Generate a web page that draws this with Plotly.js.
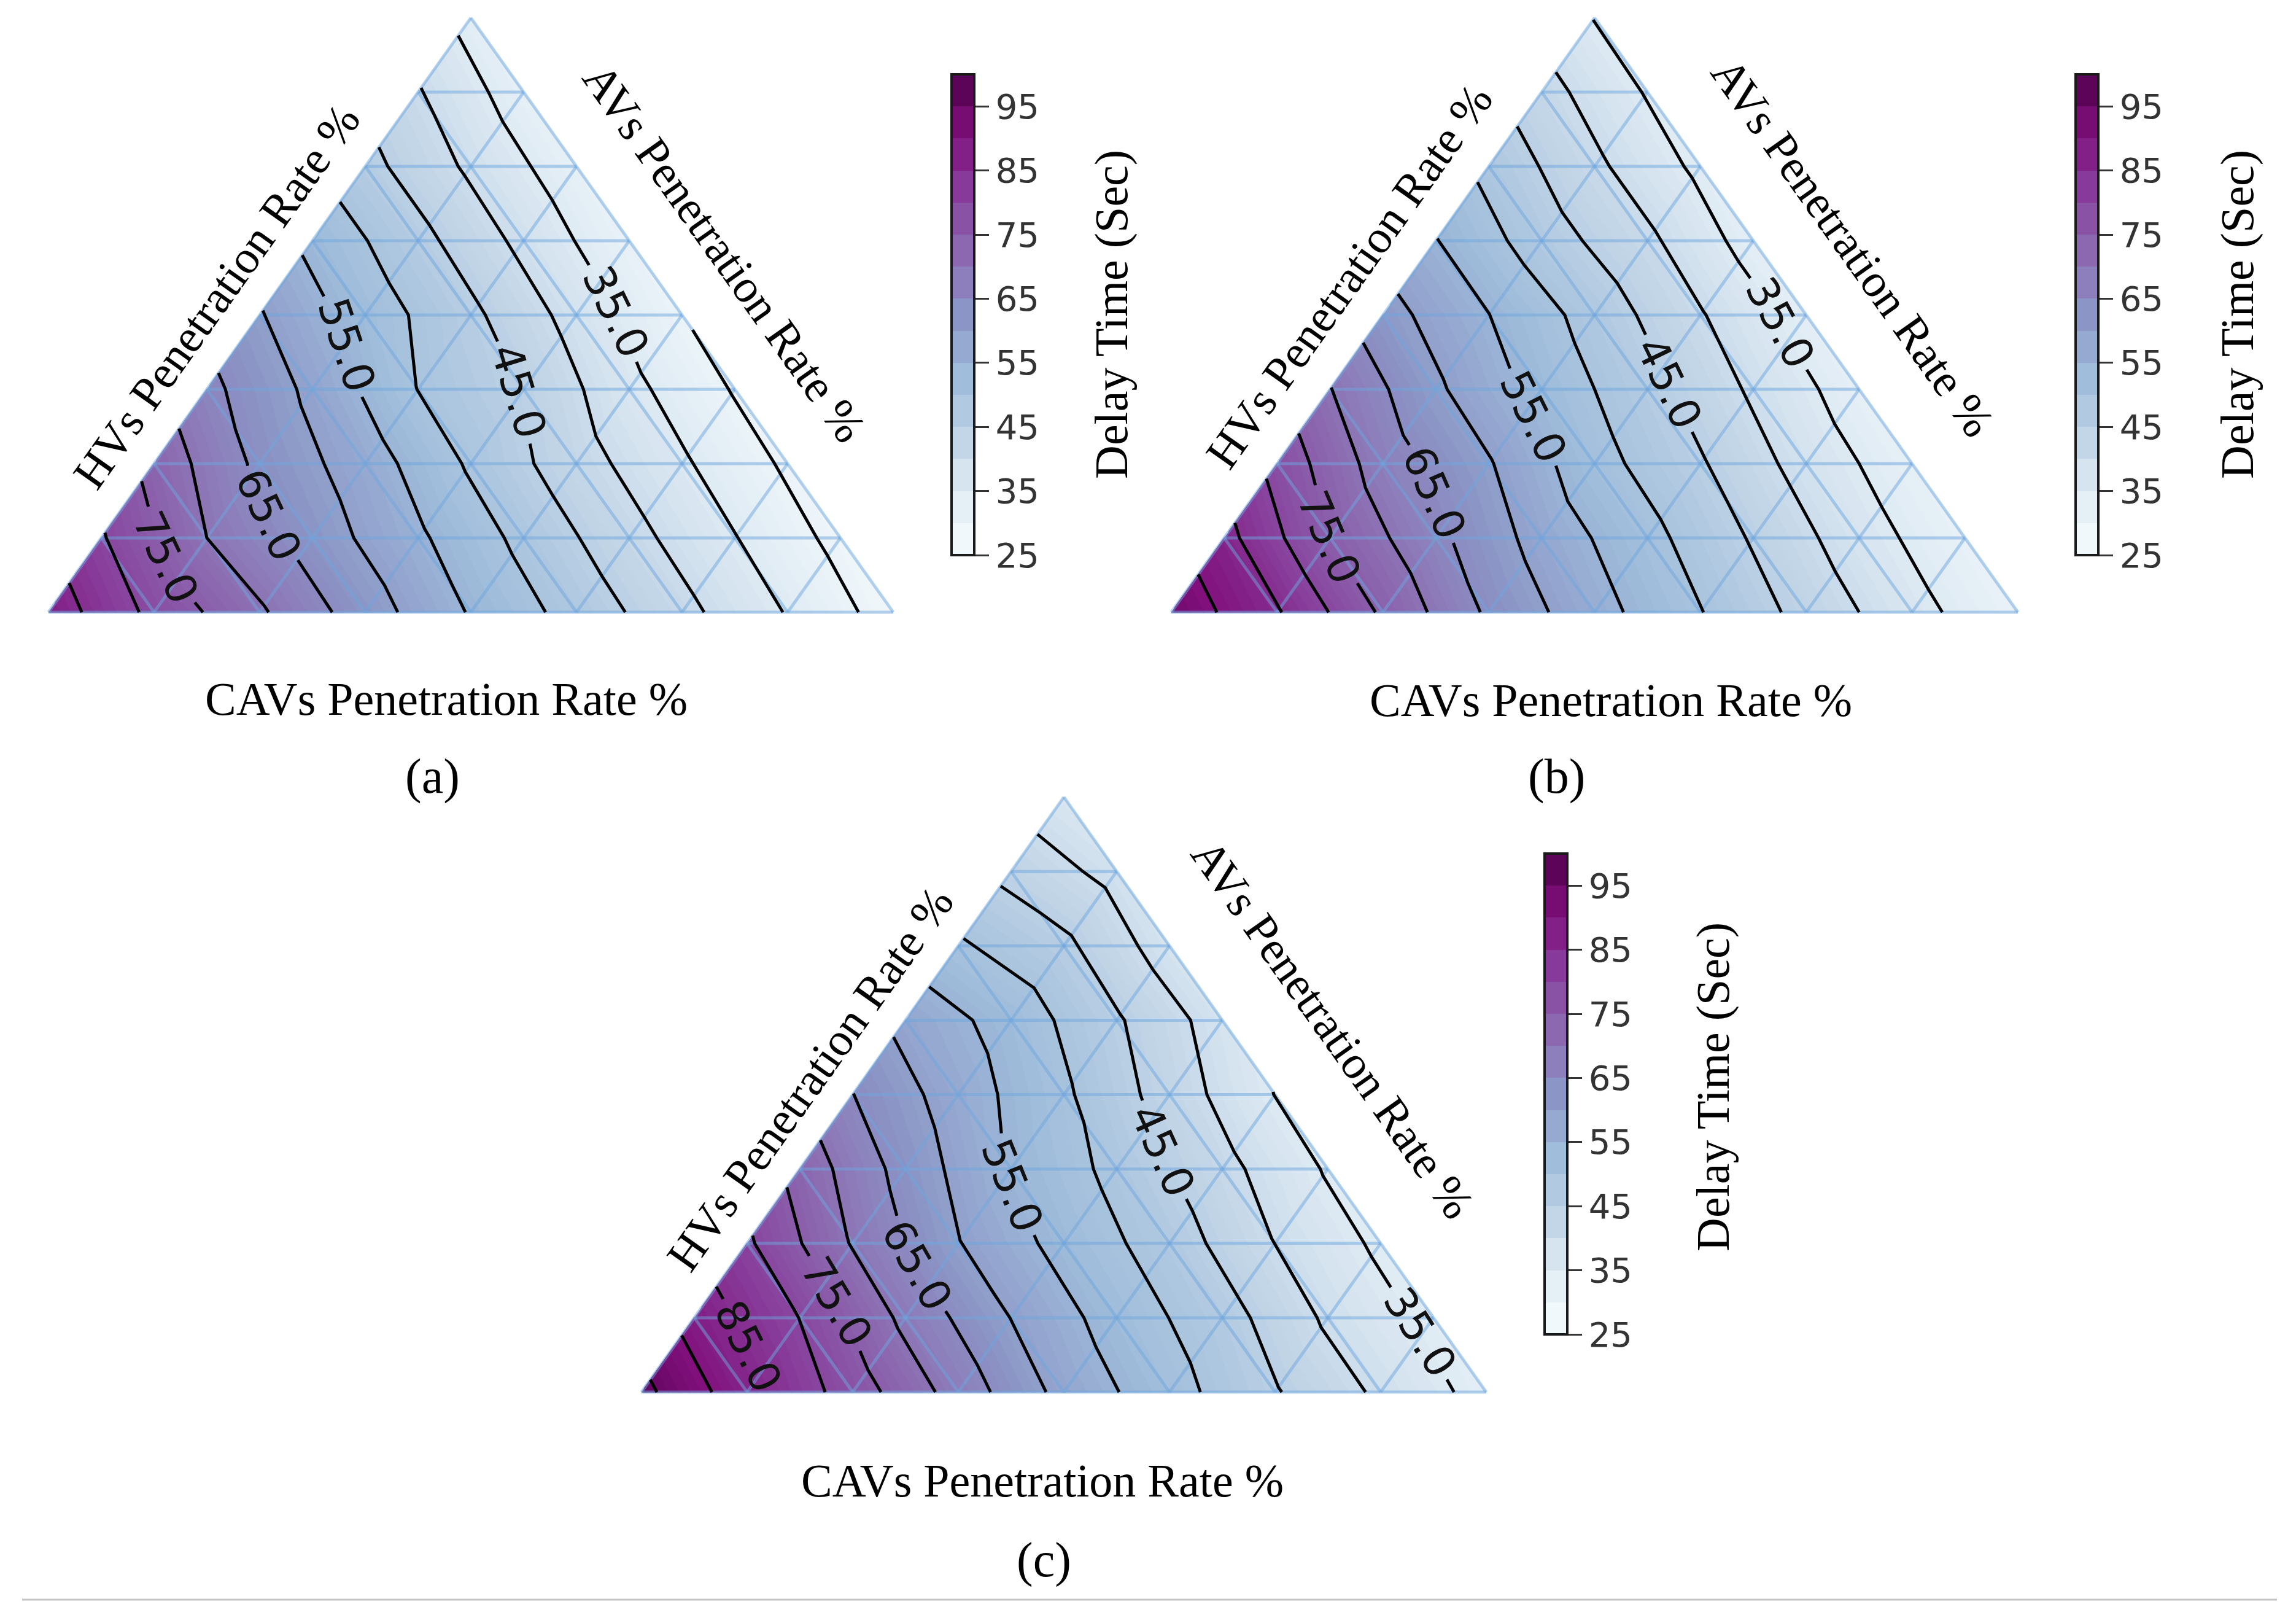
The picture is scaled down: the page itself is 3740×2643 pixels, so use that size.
<!DOCTYPE html>
<html><head><meta charset="utf-8">
<script src="https://cdn.plot.ly/plotly-3.0.1.min.js"></script>
<style>html,body{margin:0;padding:0;background:#fff}#chart{width:3740px;height:2643px}</style>
</head><body><div id="chart"></div>
<script>
// ---------------- DATA ----------------
// Delay time (s) at each node of an 8-division ternary mesh.
// Row 0 = bottom edge (left -> right), last row = apex.
const delayA = [
  [87.9, 78.7, 70.7, 62.4, 54.6, 48.1, 41.4, 34.7, 27.7],
  [80.5, 70.0, 62.7, 55.8, 48.7, 41.7, 35.2, 28.5],
  [73.3, 63.9, 57.5, 49.3, 42.1, 35.7, 29.2],
  [66.3, 58.9, 49.9, 44.7, 36.4, 29.6],
  [60.4, 52.7, 46.1, 38.1, 30.1],
  [53.7, 46.6, 38.7, 31.0],
  [46.6, 39.1, 31.9],
  [40.4, 32.3],
  [33.3]
];
const delayB = [
  [93.4, 85.5, 74.2, 64.2, 56.8, 50.2, 43.4, 36.6, 31.0],
  [86.7, 74.9, 66.2, 58.1, 51.5, 44.5, 37.2, 31.4],
  [78.3, 67.6, 60.4, 51.8, 45.5, 38.0, 32.0],
  [70.2, 60.8, 53.3, 46.7, 39.2, 32.4],
  [61.9, 55.1, 48.0, 40.4, 32.9],
  [55.2, 47.5, 41.0, 32.9],
  [48.6, 41.0, 33.9],
  [41.9, 34.6],
  [34.8]
];
const delayC = [
  [96.4, 86.8, 77.6, 67.9, 58.4, 51.9, 45.4, 39.1, 33.2],
  [88.0, 79.9, 68.7, 59.9, 52.8, 47.1, 39.2, 33.8],
  [80.8, 69.6, 60.2, 53.3, 47.7, 39.9, 34.1],
  [73.1, 63.1, 54.6, 48.7, 41.5, 34.5],
  [65.1, 57.5, 50.8, 42.8, 34.9],
  [58.5, 53.0, 45.6, 37.6],
  [50.7, 46.1, 37.4],
  [43.6, 38.3],
  [36.4]
];
const contourLevels = [30, 35, 40, 45, 50, 55, 60, 65, 70, 75, 80, 85, 90, 95];
const colorbarTicks = [25, 35, 45, 55, 65, 75, 85, 95];
const valueMin = 25, valueMax = 100;
const panelLetters = ['(a)', '(b)', '(c)'];
const leftTitle = 'HVs Penetration Rate %';
const rightTitle = 'AVs Penetration Rate %';
const bottomTitle = 'CAVs Penetration Rate %';
const colorbarTitle = 'Delay Time (Sec)';

// ---------------- PLACEMENT / STYLE ----------------
const W = 3740, H = 2643;
const panels = [
  {data: delayA, box: {L: 79, R: 1455, B: 997, T: 29},
   cb: {x0: 1550, x1: 1587, y0: 121, y1: 904}, cbTitle: [1810, 512],
   titles: {left: [352, 483], right: [1180, 411], bottom: [727, 1138], letter: [704, 1264]},
   labelHeights: {35: 0.505, 45: 0.372, 55: 0.449, 65: 0.163, 75: 0.092}},
  {data: delayB, box: {L: 1908, R: 3287, B: 997, T: 27},
   cb: {x0: 3381, x1: 3418, y0: 121, y1: 904}, cbTitle: [3644, 512],
   titles: {left: [2197, 450], right: [3018, 402], bottom: [2624, 1140], letter: [2535, 1264]},
   labelHeights: {35: 0.487, 45: 0.385, 55: 0.329, 65: 0.201, 75: 0.126}},
  {data: delayC, box: {L: 1045, R: 2421, B: 2267, T: 1298},
   cb: {x0: 2516, x1: 2553, y0: 1390, y1: 2173}, cbTitle: [2790, 1770],
   titles: {left: [1319, 1757], right: [2171, 1675], bottom: [1698, 2411], letter: [1700, 2540]},
   labelHeights: {35: 0.10, 45: 0.406, 55: 0.347, 65: 0.213, 75: 0.151, 85: 0.076}}
];
const serif = 'Liberation Serif, Times New Roman, serif';
const sans = 'DejaVu Sans, sans-serif';
const titleSize = 76, labelSize = 70, tickSize = 56;
const gridColor = 'rgba(110,165,222,0.5)';

// ---------------- HELPERS ----------------
const BUPU = ['#f7fcfd','#e0ecf4','#bfd3e6','#9ebcda','#8c96c6','#8c6bb1','#88419d','#810f7c','#4d004b']
  .map(h => [parseInt(h.slice(1,3),16), parseInt(h.slice(3,5),16), parseInt(h.slice(5,7),16)]);
function bupu(t) {
  t = Math.max(0, Math.min(1, t));
  const p = t * (BUPU.length - 1);
  const i = Math.min(BUPU.length - 2, Math.floor(p));
  const f = p - i;
  const c = BUPU[i].map((a, j) => Math.round(a + (BUPU[i + 1][j] - a) * f));
  return `rgb(${c[0]},${c[1]},${c[2]})`;
}
function buildMesh(rows) {
  const n = rows.length - 1, idx = [], verts = [], tris = [];
  for (let r = 0; r <= n; r++) {
    idx[r] = [];
    for (let k = 0; k <= n - r; k++) {
      idx[r][k] = verts.length;
      verts.push({x: (k + r / 2) / n, y: r / n, v: rows[r][k]});
    }
  }
  for (let r = 0; r < n; r++) for (let k = 0; k < n - r; k++) {
    tris.push([idx[r][k], idx[r][k + 1], idx[r + 1][k]]);
    if (k < n - r - 1) tris.push([idx[r][k + 1], idx[r + 1][k + 1], idx[r + 1][k]]);
  }
  return {n, idx, verts, tris};
}
function clip(poly, L, above) {
  const out = [];
  const inside = p => above ? p.v >= L : p.v <= L;
  for (let i = 0; i < poly.length; i++) {
    const a = poly[i], b = poly[(i + 1) % poly.length];
    const ia = inside(a), ib = inside(b);
    if (ia) out.push(a);
    if (ia !== ib) {
      const t = (L - a.v) / (b.v - a.v);
      out.push({x: a.x + t * (b.x - a.x), y: a.y + t * (b.y - a.y), v: L});
    }
  }
  return out;
}
function contourLines(mesh, L) {
  const pts = {}, segs = [];
  const key = (i, j) => i < j ? i + '_' + j : j + '_' + i;
  for (const t of mesh.tris) {
    const cross = [];
    for (let e = 0; e < 3; e++) {
      const i = t[e], j = t[(e + 1) % 3];
      const a = mesh.verts[i], b = mesh.verts[j];
      if ((a.v < L) !== (b.v < L)) {
        const k = key(i, j);
        if (!pts[k]) {
          const f = (L - a.v) / (b.v - a.v);
          pts[k] = {x: a.x + f * (b.x - a.x), y: a.y + f * (b.y - a.y)};
        }
        cross.push(k);
      }
    }
    if (cross.length === 2) segs.push(cross);
  }
  const adj = {};
  segs.forEach(([a, b], i) => { (adj[a] = adj[a] || []).push(i); (adj[b] = adj[b] || []).push(i); });
  const used = segs.map(() => false);
  const keys = Object.keys(adj);
  const starts = keys.filter(k => adj[k].length === 1).concat(keys);
  const lines = [];
  for (const s of starts) {
    if (adj[s].every(i => used[i])) continue;
    let cur = s; const chain = [cur];
    while (true) {
      const nx = adj[cur].find(i => !used[i]);
      if (nx === undefined) break;
      used[nx] = true;
      const [a, b] = segs[nx];
      cur = a === cur ? b : a;
      chain.push(cur);
    }
    lines.push(chain.map(k => pts[k]));
  }
  return lines;
}
function arc(P) {
  const cum = [0];
  for (let i = 1; i < P.length; i++) cum.push(cum[i - 1] + Math.hypot(P[i][0] - P[i - 1][0], P[i][1] - P[i - 1][1]));
  return cum;
}
function pointAt(P, cum, s) {
  const tot = cum[cum.length - 1];
  s = Math.max(0, Math.min(tot, s));
  for (let i = 0; i < P.length - 1; i++) {
    if (s <= cum[i + 1] || i === P.length - 2) {
      const d = cum[i + 1] - cum[i];
      const f = d > 0 ? (s - cum[i]) / d : 0;
      return [P[i][0] + f * (P[i + 1][0] - P[i][0]), P[i][1] + f * (P[i + 1][1] - P[i][1])];
    }
  }
  return P[P.length - 1];
}

// ---------------- BUILD ----------------
const traces = [], annotations = [];
const layout = {
  width: W, height: H, margin: {l: 0, r: 0, t: 0, b: 0},
  paper_bgcolor: '#fff', plot_bgcolor: 'rgba(0,0,0,0)', showlegend: false, hovermode: false,
  annotations, shapes: [{type: 'line', xref: 'paper', yref: 'paper', x0: 36 / W, x1: 3709 / W,
    y0: 1 - 2605 / H, y1: 1 - 2605 / H, line: {color: '#c4c4c4', width: 3}}]
};
const stepped = [];
const nb = (valueMax - valueMin) / 5;
for (let b = 0; b < nb; b++) {
  const c = bupu((b + 0.5) / nb);
  stepped.push([b / nb, c], [(b + 1) / nb, c]);
}

panels.forEach((pan, pi) => {
  const sfx = pi === 0 ? '' : String(pi + 1);
  const xa = 'x' + sfx, ya = 'y' + sfx;
  const {L, R, B, T} = pan.box;
  const sx = R - L, sy = B - T, pad = 0.03;
  layout['xaxis' + sfx] = {domain: [(L - pad * sx) / W, (R + pad * sx) / W], range: [-pad, 1 + pad],
    visible: false, fixedrange: true, anchor: ya};
  layout['yaxis' + sfx] = {domain: [1 - (B + pad * sy) / H, 1 - (T - pad * sy) / H], range: [-pad, 1 + pad],
    visible: false, fixedrange: true, anchor: xa};
  const mesh = buildMesh(pan.data);

  // filled colour bands (fine steps -> smooth shading)
  for (let lo = valueMin; lo < valueMax; lo += 1) {
    const hi = lo + 1, xs = [], ys = [];
    for (const t of mesh.tris) {
      let poly = t.map(i => mesh.verts[i]);
      poly = clip(clip(poly, lo, true), hi, false);
      if (poly.length >= 3) { poly.forEach(p => { xs.push(p.x); ys.push(p.y); }); xs.push(null); ys.push(null); }
    }
    if (!xs.length) continue;
    const col = bupu((lo + 0.5 - valueMin) / (valueMax - valueMin));
    traces.push({type: 'scatter', mode: 'lines', x: xs, y: ys, xaxis: xa, yaxis: ya, fill: 'toself',
      fillcolor: col, line: {color: col, width: 1.5}, hoverinfo: 'skip'});
  }

  // triangular grid
  const gx = [], gy = [];
  const n = mesh.n, V = (r, k) => mesh.verts[mesh.idx[r][k]];
  for (let i = 0; i < n; i++) {
    [[V(i, 0), V(i, n - i)], [V(0, i), V(n - i, i)], [V(0, n - i), V(n - i, 0)]].forEach(([a, b]) => {
      gx.push(a.x, b.x, null); gy.push(a.y, b.y, null);
    });
  }
  traces.push({type: 'scatter', mode: 'lines', x: gx, y: gy, xaxis: xa, yaxis: ya,
    line: {color: gridColor, width: 5}, hoverinfo: 'skip'});

  // contour lines with inline labels
  contourLevels.forEach(lv => {
    const lines = contourLines(mesh, lv);
    if (!lines.length) return;
    const xs = [], ys = [];
    const yT = pan.labelHeights[lv];
    let labelled = yT === undefined;
    lines.forEach(line => {
      let out = [line];
      if (!labelled && line.length > 1) {
        const P = line.map(p => [p.x * sx, -p.y * sy]);
        const cum = arc(P);
        let s0 = null;
        for (let i = 0; i < line.length - 1; i++) {
          const a = line[i], b = line[i + 1];
          if ((a.y - yT) * (b.y - yT) <= 0 && a.y !== b.y) {
            const f = (yT - a.y) / (b.y - a.y);
            s0 = cum[i] + f * (cum[i + 1] - cum[i]);
            break;
          }
        }
        if (s0 !== null) {
          labelled = true;
          const txt = lv.toFixed(1);
          const g = (3 * 0.636 + 0.318) * labelSize / 2 + 10;
          const c = pointAt(P, cum, s0), a = pointAt(P, cum, s0 - 30), b = pointAt(P, cum, s0 + 30);
          let ang = Math.atan2(b[1] - a[1], b[0] - a[0]) * 180 / Math.PI;
          if (ang > 90) ang -= 180; if (ang <= -90) ang += 180;
          annotations.push({xref: xa, yref: ya, x: c[0] / sx, y: -c[1] / sy, text: txt, showarrow: false,
            textangle: ang, xanchor: 'center', yanchor: 'middle',
            font: {family: sans, size: labelSize, color: '#111'}});
          const toData = q => ({x: q[0] / sx, y: -q[1] / sy});
          const part1 = [], part2 = [];
          for (let i = 0; i < P.length; i++) { if (cum[i] < s0 - g) part1.push(line[i]); }
          if (s0 - g > 0) part1.push(toData(pointAt(P, cum, s0 - g)));
          if (s0 + g < cum[cum.length - 1]) part2.push(toData(pointAt(P, cum, s0 + g)));
          for (let i = 0; i < P.length; i++) { if (cum[i] > s0 + g) part2.push(line[i]); }
          out = [part1, part2];
        }
      }
      out.forEach(seg => {
        if (seg.length < 2) return;
        seg.forEach(p => { xs.push(p.x); ys.push(p.y); }); xs.push(null); ys.push(null);
      });
    });
    traces.push({type: 'scatter', mode: 'lines', x: xs, y: ys, xaxis: xa, yaxis: ya,
      line: {color: '#000', width: 5}, hoverinfo: 'skip'});
  });

  // invisible nodes carrying the colour bar
  const cb = pan.cb;
  traces.push({type: 'scatter', mode: 'markers', x: mesh.verts.map(p => p.x), y: mesh.verts.map(p => p.y),
    xaxis: xa, yaxis: ya, hoverinfo: 'skip',
    marker: {size: 1, opacity: 0, color: mesh.verts.map(p => p.v), cmin: valueMin, cmax: valueMax,
      colorscale: stepped, showscale: true,
      colorbar: {x: cb.x0 / W, xanchor: 'left', xpad: 0, y: 1 - (cb.y0 + cb.y1) / 2 / H, yanchor: 'middle', ypad: 0,
        len: cb.y1 - cb.y0, lenmode: 'pixels', thickness: cb.x1 - cb.x0, thicknessmode: 'pixels',
        outlinewidth: 4, outlinecolor: '#1a1a1a', ticks: 'outside', ticklen: 22, tickwidth: 3, tickcolor: '#333',
        tickmode: 'array', tickvals: colorbarTicks, ticktext: colorbarTicks.map(String),
        tickfont: {family: sans, size: tickSize, color: '#333'}, title: {text: ''}}}});

  // titles
  const P2 = (p) => ({x: p[0] / W, y: 1 - p[1] / H});
  const edgeAng = Math.atan(sy / (sx / 2)) * 180 / Math.PI;
  const ann = (pos, text, angle, size) => annotations.push(Object.assign({xref: 'paper', yref: 'paper', text,
    showarrow: false, textangle: angle, xanchor: 'center', yanchor: 'middle',
    font: {family: serif, size, color: '#000'}}, P2(pos)));
  ann(pan.titles.left, leftTitle, -edgeAng, titleSize);
  ann(pan.titles.right, rightTitle, edgeAng, titleSize);
  ann(pan.titles.bottom, bottomTitle, 0, titleSize);
  ann(pan.titles.letter, panelLetters[pi], 0, 80);
  ann(pan.cbTitle, colorbarTitle, -90, titleSize);
});

Plotly.newPlot('chart', traces, layout, {displayModeBar: false, staticPlot: true});
</script>
</body></html>
